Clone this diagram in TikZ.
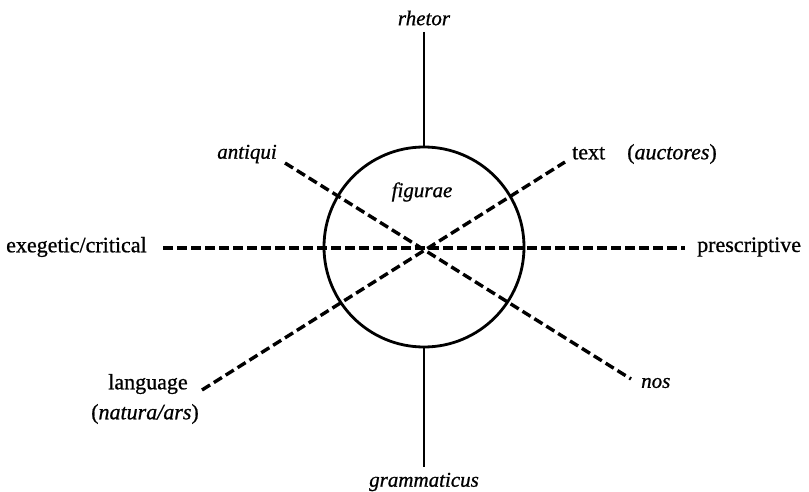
\documentclass[tikz,border=0pt]{standalone}
\usepackage{fontspec}
\setmainfont{Liberation Serif}[FakeBold=0.8]
\tikzset{
  lbl/.style={inner sep=0pt, font=\fontsize{22}{30}\selectfont},
  ilbl/.style={inner sep=0pt, font=\fontsize{21}{29}\selectfont\itshape},
  dashline/.style={line width=3.4pt, dash pattern=on 9.5pt off 4.5pt},
  solidline/.style={line width=2.2pt},
  ring/.style={draw, circle, line width=2.8pt, minimum size=200pt, inner sep=0pt}
}
\begin{document}
\begin{tikzpicture}[x=1pt,y=-1pt]
\useasboundingbox (0,0) rectangle (809,492);
% circle
\node[ring] (circ) at (424,247) {};
\node[ilbl] (fig) at (422,192) {figurae};
% labels
\node[ilbl] (rhetor) at (424,18) {rhetor};
\node[ilbl] (gram) at (424,482) {grammaticus};
\node[lbl, anchor=west] (exe) at (6,247) {exegetic/critical};
\node[lbl, anchor=west] (pres) at (697,247) {prescriptive};
\node[lbl, anchor=west] (text) at (572,154) {text\quad(\textit{auctores})};
\node[ilbl] (antiqui) at (247,154) {antiqui};
\node[ilbl, anchor=west] (nos) at (641,383) {nos};
\node[lbl, align=center] (lang) at (145,399) {\hspace*{6pt}language\\(\textit{natura/ars})};
% line ends
\coordinate (vt) at (424,32);
\coordinate (vb) at (424,467);
\coordinate (hl) at (163,248);
\coordinate (hr) at (685,248);
\coordinate (al) at (285,163);
\coordinate (nr) at (631,379);
\coordinate (ll) at (202,390);
\coordinate (tr) at (565,162);
% connectors
\draw[solidline] (vt) -- (circ.north);
\draw[solidline] (circ.south) -- (vb);
\draw[dashline] (hl) -- (hr);
\draw[dashline] (al) -- (nr);
\draw[dashline] (ll) -- (tr);
\end{tikzpicture}
\end{document}
